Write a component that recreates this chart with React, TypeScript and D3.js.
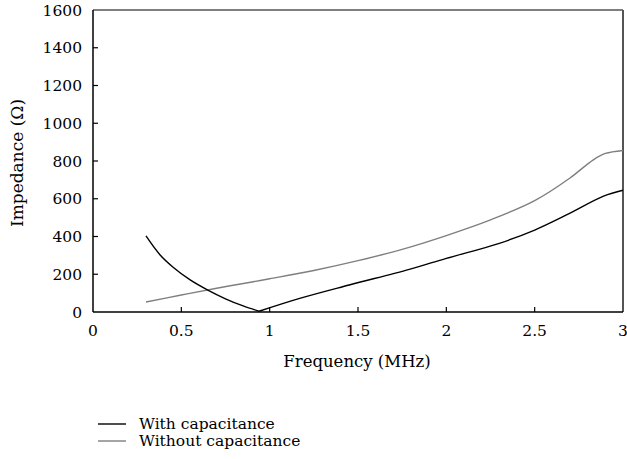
import React from "react";
import * as d3 from "d3";

const withFreq = [0.3, 0.38, 0.45, 0.55, 0.65, 0.75, 0.85, 0.94, 1.17, 1.45, 1.79, 2.0, 2.3, 2.5, 2.68, 2.89, 3.0];
const withImp = [403, 302, 240, 170, 116, 70, 32, 4, 72, 143, 226, 284, 364, 434, 514, 614, 645];
const withoutFreq = [0.3, 0.5, 0.7, 0.9, 1.0, 1.25, 1.5, 1.75, 2.0, 2.25, 2.5, 2.7, 2.83, 2.9, 3.0];
const withoutImp = [53, 90, 126, 159, 176, 220, 272, 332, 405, 488, 590, 710, 805, 840, 856];
const xTicks = [0, 0.5, 1, 1.5, 2, 2.5, 3];
const yTicks = [0, 200, 400, 600, 800, 1000, 1200, 1400, 1600];
const seriesNames = ["With capacitance", "Without capacitance"];

const W = 627, H = 459;
const left = 93, right = 623, top = 10, bottom = 312;
const FONT = '"DejaVu Serif", "Liberation Serif", serif';
const ts: React.CSSProperties = { fontFamily: FONT, fontSize: 15.5 };

export default function App() {
  const x = d3.scaleLinear().domain([0, 3]).range([left, right]);
  const y = d3.scaleLinear().domain([0, 1600]).range([bottom, top]);
  const line = d3
    .line<[number, number]>()
    .x((d) => x(d[0]))
    .y((d) => y(d[1]))
    .curve(d3.curveCatmullRom.alpha(0.5));

  const withPts: [number, number][] = withFreq.map((f, i) => [f, withImp[i]]);
  const minIdx = withImp.indexOf(Math.min(...withImp));
  const withA = withPts.slice(0, minIdx + 1);
  const withB = withPts.slice(minIdx);
  const withoutPts: [number, number][] = withoutFreq.map((f, i) => [f, withoutImp[i]]);

  return (
    <svg width={W} height={H} style={{ position: "absolute", left: 0, top: 0 }}>
      <rect width={W} height={H} fill="#fff" />
      <line x1={left} x2={right} y1={top} y2={top} stroke="#555" strokeWidth={1.5} />
      <line x1={right} x2={right} y1={top} y2={bottom} stroke="#555" strokeWidth={2} />
      <line x1={left} x2={left} y1={top} y2={bottom} stroke="#000" strokeWidth={1.5} />
      <line x1={left} x2={right} y1={bottom} y2={bottom} stroke="#000" strokeWidth={1.5} />
      {yTicks.map((t) => (
        <g key={"y" + t}>
          {t > 0 && t < 1600 && (
            <line x1={left} x2={left + 5} y1={y(t)} y2={y(t)} stroke="#000" strokeWidth={1.2} />
          )}
          <text x={left - 11} y={y(t)} dy="0.36em" textAnchor="end" style={ts}>
            {t}
          </text>
        </g>
      ))}
      {xTicks.map((t) => (
        <g key={"x" + t}>
          {t > 0 && t < 3 && (
            <line x1={x(t)} x2={x(t)} y1={bottom} y2={bottom - 5} stroke="#000" strokeWidth={1.2} />
          )}
          <text x={x(t)} y={bottom + 24} textAnchor="middle" style={ts}>
            {t}
          </text>
        </g>
      ))}
      <text x={(left + right) / 2 - 1} y={367} textAnchor="middle" style={{ ...ts, fontSize: 16.5 }}>
        Frequency (MHz)
      </text>
      <text
        transform={`translate(23, 163) rotate(-90)`}
        textAnchor="middle"
        style={{ ...ts, fontSize: 17 }}
      >
        Impedance (Ω)
      </text>
      <path d={line(withoutPts) || ""} fill="none" stroke="#7f7f7f" strokeWidth={1.4} />
      <path d={line(withA) || ""} fill="none" stroke="#000" strokeWidth={1.4} />
      <path d={line(withB) || ""} fill="none" stroke="#000" strokeWidth={1.4} />
      {seriesNames.map((n, i) => (
        <g key={n} transform={`translate(98, ${424 + i * 17})`}>
          <line x1={0} x2={28} y1={0} y2={0} stroke={i === 0 ? "#000" : "#7f7f7f"} strokeWidth={1.4} />
          <text x={41} y={0} dy="0.35em" style={{ ...ts, fontSize: 15.5 }}>
            {n}
          </text>
        </g>
      ))}
    </svg>
  );
}
